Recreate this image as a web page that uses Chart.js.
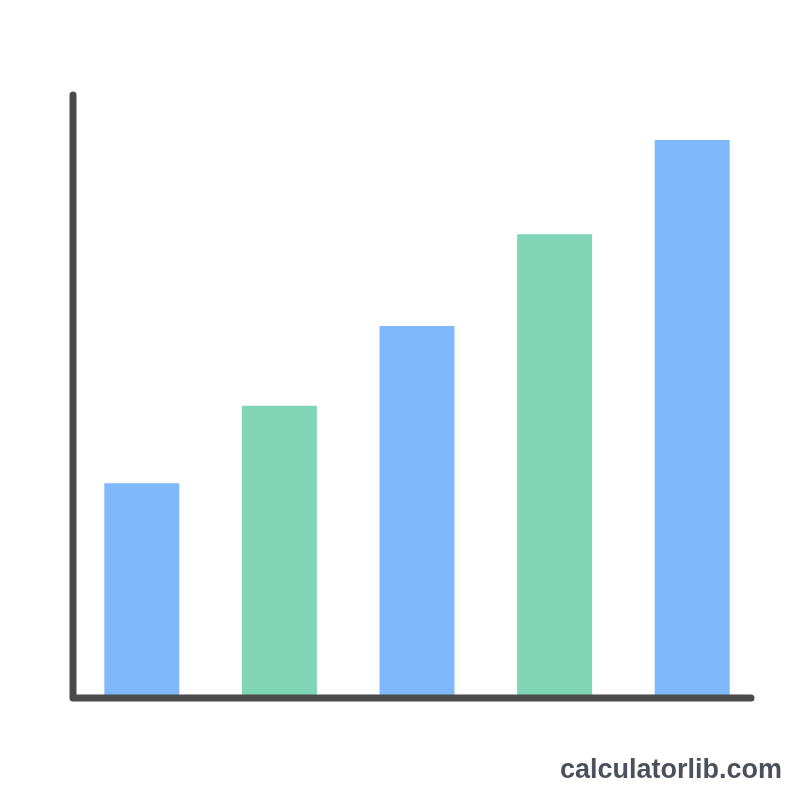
<!DOCTYPE html>
<html>
<head>
<meta charset="utf-8">
<script src="https://cdn.jsdelivr.net/npm/chart.js@4"></script>
<style>
  html, body { margin: 0; padding: 0; background: #fff; }
  #wrap { position: relative; width: 800px; height: 800px; }
  #mark {
    position: absolute; right: 18px; top: 754px;
    font-family: "Liberation Sans", Arial, sans-serif; font-weight: bold;
    font-size: 27px; color: #4b505c;
  }
</style>
</head>
<body>
<div id="wrap">
  <canvas id="chart" width="800" height="800"></canvas>
  <div id="mark">calculatorlib.com</div>
</div>
<script>
// bar values (y axis 0..100)
var categories = ['A', 'B', 'C', 'D', 'E'];
var values = [35.3, 48.2, 61.5, 76.8, 92.5];
var colors = ['#80b9fb', '#80d5b6', '#80b9fb', '#80d5b6', '#80b9fb'];

// plain dark axes with round ends
var axisLines = {
  id: 'axisLines',
  afterDatasetsDraw: function(chart) {
    var a = chart.chartArea, c = chart.ctx;
    c.save();
    c.strokeStyle = '#4a4a4a';
    c.lineWidth = 7;
    c.lineCap = 'round';
    c.lineJoin = 'round';
    c.beginPath();
    c.moveTo(a.left, a.top);
    c.lineTo(a.left, a.bottom + 3);
    c.lineTo(a.right - 10, a.bottom + 3);
    c.stroke();
    c.restore();
  }
};

var ctx = document.getElementById('chart').getContext('2d');
var ans = new Chart(ctx, {
  type: 'bar',
  data: {
    labels: categories,
    datasets: [{
      data: values,
      backgroundColor: colors,
      borderWidth: 0,
      barPercentage: 0.545,
      categoryPercentage: 1
    }]
  },
  options: {
    responsive: false,
    animation: false,
    layout: { padding: { left: 73, right: 39, top: 95, bottom: 105 } },
    plugins: { legend: { display: false }, tooltip: { enabled: false } },
    scales: {
      x: { display: false },
      y: { display: false, min: 0, max: 100 }
    }
  },
  plugins: [axisLines]
});
</script>
</body>
</html>
